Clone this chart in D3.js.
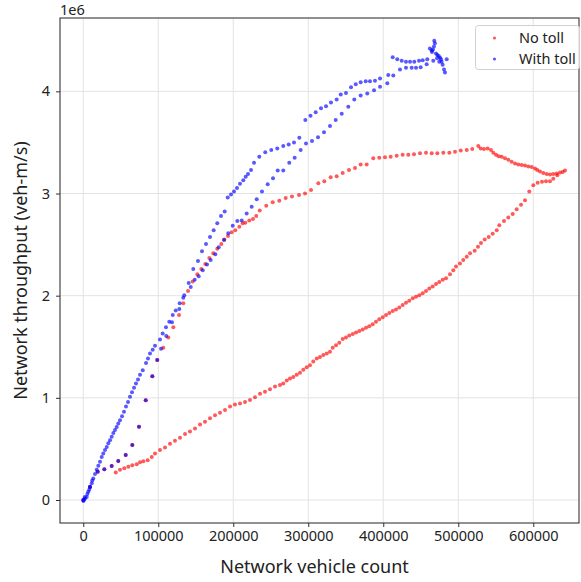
<!DOCTYPE html>
<html>
<head>
<meta charset="utf-8">
<script src="https://cdn.jsdelivr.net/npm/d3@7"></script>
<style>
  body { margin: 0; background: #fff; }
  text { font-family: "Noto Sans", "Open Sans", sans-serif; fill: #222; }
</style>
</head>
<body>
<div class="mfd-plot"></div>
<script>
// x = network vehicle count, y = throughput in units of 1e6 veh-m/s
// early loading points, identical in both runs
const sharedStart = [[0,0],[9000,0.13],[19300,0.277],[28100,0.30],[37900,0.333],[46700,0.382],[56600,0.44],
  [65400,0.538],[74300,0.717],[83300,0.976],[92100,1.211],[98700,1.37]];

const noTollRise = [[106700,1.49],[113400,1.59],[120100,1.69],[127700,1.81],[133400,1.925],[139700,2.045],
  [145900,2.14],[152100,2.21],[157400,2.26],[162700,2.31],[168100,2.37],[173400,2.415],[178700,2.46],
  [184100,2.505],[188100,2.55],[193000,2.585],[197900,2.62],[202700,2.64],[208100,2.675],[212600,2.71],
  [216100,2.715],[221400,2.735],[226300,2.75],[230700,2.78],[235300,2.835],[244000,2.88],[252600,2.915],
  [261400,2.93],[269900,2.955],[278300,2.97],[287700,2.985],[295700,3.00],[303700,3.035],[313400,3.10],
  [321400,3.12],[329900,3.16],[337900,3.17],[345900,3.20],[354300,3.23],[362300,3.25],[369900,3.285],
  [377900,3.285],[386700,3.345],[394700,3.35],[402300,3.355],[409900,3.36],[417900,3.37],[425900,3.38],
  [433400,3.38],[441000,3.385],[449000,3.395],[457000,3.40],[464600,3.395],[472100,3.395],[480100,3.40],
  [488100,3.40],[495700,3.41],[503300,3.42],[511300,3.425],[518700,3.435],[526700,3.465],[529900,3.44],
  [534300,3.435],[539200,3.44],[543700,3.425],[546700,3.40],[550300,3.38],[553900,3.365],[557900,3.36],
  [562300,3.345],[566700,3.33],[571200,3.31],[575700,3.295],[580100,3.285],[584600,3.28],[589000,3.275],
  [593400,3.265],[597900,3.26],[602300,3.245],[605400,3.23],[609000,3.215],[613400,3.20],[617900,3.19],
  [622300,3.185],[626700,3.19],[631300,3.195],[635700,3.205],[639300,3.21],[642300,3.225]];

const noTollFall = [[632100,3.18],[626700,3.145],[622300,3.12],[617000,3.12],[611700,3.115],[605900,3.105],
  [600100,3.08],[594700,3.02],[589000,2.935],[583700,2.89],[577900,2.845],[572600,2.80],[566700,2.765],
  [561000,2.73],[554700,2.69],[551300,2.64],[545900,2.605],[540600,2.575],[535300,2.55],[530300,2.515],
  [526300,2.48],[521900,2.44],[515700,2.415],[511300,2.38],[506700,2.35],[502300,2.315],[497000,2.285],
  [493400,2.25],[489000,2.21],[483700,2.17],[479300,2.155],[474700,2.135],[470300,2.115],[465900,2.09],
  [461400,2.07],[457000,2.045],[452600,2.025],[448100,2.005],[443700,1.99],[439300,1.975],[434700,1.95],
  [430300,1.93],[425900,1.91],[421400,1.885],[417000,1.865],[412600,1.85],[408100,1.83],[403700,1.81],
  [399300,1.79],[394700,1.77],[390300,1.745],[385900,1.72],[381400,1.70],[377000,1.685],[372600,1.67],
  [368100,1.655],[363700,1.64],[359300,1.625],[354700,1.61],[350300,1.59],[345900,1.575],[341400,1.54],
  [337000,1.515],[332600,1.49],[329000,1.45],[324600,1.435],[320100,1.42],[315700,1.40],[311300,1.385],
  [306700,1.355],[302300,1.32],[297900,1.30],[293400,1.275],[289000,1.245],[284600,1.225],[280100,1.205],
  [275700,1.19],[271300,1.17],[266700,1.14],[262300,1.125],[255700,1.11],[249000,1.085],[242300,1.06],
  [235700,1.04],[229000,1.005],[222300,0.98],[215700,0.96],[209000,0.945],[202300,0.935],[195700,0.915],
  [189000,0.88],[182300,0.855],[175700,0.83],[169000,0.80],[162300,0.765],[155700,0.74],[149000,0.70],
  [142300,0.67],[135700,0.645],[129000,0.61],[122300,0.58],[115700,0.55],[109000,0.515],[102300,0.49],
  [95700,0.455],[91300,0.42],[85900,0.39],[80100,0.38],[75700,0.37],[71300,0.35],[65400,0.34],
  [60100,0.325],[54700,0.31],[49000,0.295],[43300,0.27]];

const withTollRise = [[103700,1.48],[110700,1.605],[118300,1.74],[128100,1.87],[134700,2.005],[143300,2.085],
  [148600,2.155],[153900,2.19],[159300,2.25],[165000,2.305],[169900,2.35],[176100,2.405],[180600,2.475],
  [187700,2.545],[193400,2.61],[199300,2.685],[205400,2.73],[211300,2.735],[217900,2.805],[224600,2.87],
  [231300,2.945],[238300,3.02],[245900,3.09],[253000,3.15],[259300,3.225],[266700,3.225],[274700,3.30],
  [281900,3.35],[289900,3.425],[297000,3.49],[305000,3.515],[313000,3.55],[321000,3.60],[329000,3.66],
  [336600,3.72],[344600,3.78],[353400,3.85],[361400,3.92],[369900,3.96],[378700,3.98],[387700,4.01],
  [395700,4.045],[405400,4.08],[422300,4.215],[430300,4.23],[437900,4.23],[443700,4.23],[449900,4.235],
  [457900,4.265],[466700,4.30]];

const withTollPeak = [[462200,4.42],[464600,4.40],[468000,4.495],[468900,4.47],[467600,4.44],[470300,4.37],
  [472100,4.355],[474000,4.345],[475700,4.33],[477000,4.315],[477900,4.29],[479200,4.26],[481000,4.215],
  [482300,4.185],[484600,4.315],[474700,4.29],[465000,4.385],[466300,4.41],[471700,4.325]];

const withTollFall = [[458700,4.315],[452600,4.305],[447700,4.30],[441400,4.29],[435700,4.29],[430300,4.29],
  [424600,4.30],[418700,4.315],[412600,4.335],[413400,4.155],[406700,4.16],[395700,4.125],[389000,4.105],
  [382300,4.10],[376600,4.10],[369900,4.09],[363300,4.07],[357000,4.04],[350300,3.985],[343300,3.97],
  [337900,3.92],[330300,3.89],[323700,3.855],[317000,3.835],[309900,3.795],[303000,3.76],[296100,3.72],
  [288100,3.545],[281000,3.50],[273900,3.48],[266700,3.465],[258700,3.44],[250700,3.425],[242700,3.405],
  [234700,3.36],[227700,3.30],[223700,3.23],[219700,3.19],[216600,3.165],[213400,3.13],[209000,3.095],
  [205000,3.055],[201000,3.02],[197000,2.99],[192600,2.96],[188600,2.825],[183700,2.78],[178700,2.71],
  [173900,2.64],[169000,2.575],[163700,2.505],[158300,2.435],[153000,2.34],[146700,2.26],[140600,2.125],
  [133400,1.98],[128600,1.925],[123300,1.855],[119300,1.81],[114700,1.745],[110300,1.69],[105900,1.63],
  [102300,1.57],[95700,1.51],[92600,1.47],[89000,1.435],[86300,1.385],[83700,1.34],[79300,1.27],
  [75700,1.225],[73000,1.18],[70300,1.14],[67700,1.10],[65000,1.055],[62300,1.01],[59700,0.96],
  [57000,0.915],[54300,0.865],[51700,0.82],[49000,0.78],[46700,0.75],[44600,0.715],[42300,0.685],
  [40100,0.655],[37900,0.62],[35700,0.585],[33400,0.555],[31300,0.52],[29000,0.49],[26700,0.455],
  [24600,0.42],[22300,0.375],[20100,0.335],[17900,0.295],[15700,0.255],[13400,0.21],[12000,0.19],
  [11300,0.165],[9000,0.125],[8000,0.10],[6700,0.08],[5500,0.06],[4600,0.03],[2300,0.015],[2000,0.03],
  [1000,0.005],[300,-0.01]];

const xTicks = [0, 100000, 200000, 300000, 400000, 500000, 600000];
const yTicks = [0, 1, 2, 3, 4];
const seriesNames = ["No toll", "With toll"];
const seriesColors = ["#ff0000", "#0000ff"];

const noToll = sharedStart.concat(noTollRise, noTollFall);
const withToll = sharedStart.concat(withTollRise, withTollPeak, withTollFall);

const width = 581;
const height = 582;
const padLeft = 60, padRight = 579, padTop = 18, padBottom = 523;

const svg = d3.select('.mfd-plot')
  .append('svg')
  .attr('width', width)
  .attr('height', height);

const x = d3.scaleLinear().domain([-31000, 661000]).range([padLeft, padRight]);
const y = d3.scaleLinear().domain([-0.225, 4.718]).range([padBottom, padTop]);

// grid
svg.selectAll(".xgrid")
  .data(xTicks)
  .enter()
  .append("line")
  .attr("x1", d => x(d)).attr("x2", d => x(d))
  .attr("y1", padTop).attr("y2", padBottom)
  .attr("stroke", "#e3e3e3")
  .attr("stroke-width", 1);

svg.selectAll(".ygrid")
  .data(yTicks)
  .enter()
  .append("line")
  .attr("x1", padLeft).attr("x2", padRight)
  .attr("y1", d => y(d)).attr("y2", d => y(d))
  .attr("stroke", "#e3e3e3")
  .attr("stroke-width", 1);

// points
const plot = svg.append("g");
plot.selectAll(".red")
  .data(noToll)
  .enter()
  .append("circle")
  .attr("cx", d => x(d[0]))
  .attr("cy", d => y(d[1]))
  .attr("r", 2)
  .attr("fill", seriesColors[0])
  .attr("fill-opacity", 0.65);

plot.selectAll(".blue")
  .data(withToll)
  .enter()
  .append("circle")
  .attr("cx", d => x(d[0]))
  .attr("cy", d => y(d[1]))
  .attr("r", 2)
  .attr("fill", seriesColors[1])
  .attr("fill-opacity", 0.65);

// axes
const xAxis = svg.append("g")
  .attr("transform", "translate(0," + padBottom + ")")
  .call(d3.axisBottom(x).tickValues(xTicks).tickFormat(d => d).tickSize(4).tickPadding(4).tickSizeOuter(0));
const yAxis = svg.append("g")
  .attr("transform", "translate(" + padLeft + ",0)")
  .call(d3.axisLeft(y).tickValues(yTicks).tickFormat(d => d).tickSize(4).tickPadding(6).tickSizeOuter(0));

[xAxis, yAxis].forEach(a => {
  a.select(".domain").remove();
  a.selectAll("line").attr("stroke", "#333");
  a.selectAll("text").attr("font-size", 14.5).attr("fill", "#222")
    .style("font-family", '"Noto Sans", sans-serif');
});

// frame
svg.append("rect")
  .attr("x", padLeft).attr("y", padTop)
  .attr("width", padRight - padLeft).attr("height", padBottom - padTop)
  .attr("fill", "none")
  .attr("stroke", "#222")
  .attr("stroke-width", 1);

svg.append("text")
  .text("1e6")
  .attr("x", padLeft)
  .attr("y", 15)
  .attr("font-size", 14.5);

svg.append("text")
  .text("Network vehicle count")
  .attr("x", (padLeft + padRight) / 2 - 5)
  .attr("y", 573)
  .attr("text-anchor", "middle")
  .attr("font-size", 18);

svg.append("text")
  .text("Network throughput (veh-m/s)")
  .attr("transform", "translate(27," + ((padTop + padBottom) / 2) + ") rotate(-90)")
  .attr("text-anchor", "middle")
  .attr("font-size", 18);

// legend
const legend = svg.append("g");
legend.append("rect")
  .attr("x", 475.5).attr("y", 25.5)
  .attr("width", 104).attr("height", 44)
  .attr("rx", 3)
  .attr("fill", "#fff")
  .attr("fill-opacity", 0.8)
  .attr("stroke", "#d0d0d0");

legend.selectAll(".dot")
  .data(seriesNames)
  .enter()
  .append("circle")
  .attr("cx", 494.5)
  .attr("cy", (d, i) => 38 + i * 21)
  .attr("r", 1.6)
  .attr("fill", (d, i) => seriesColors[i])
  .attr("fill-opacity", 0.65);

legend.selectAll(".label")
  .data(seriesNames)
  .enter()
  .append("text")
  .text(d => d)
  .attr("x", 519)
  .attr("y", (d, i) => 43 + i * 21)
  .attr("font-size", 14.5);
</script>
</body>
</html>
